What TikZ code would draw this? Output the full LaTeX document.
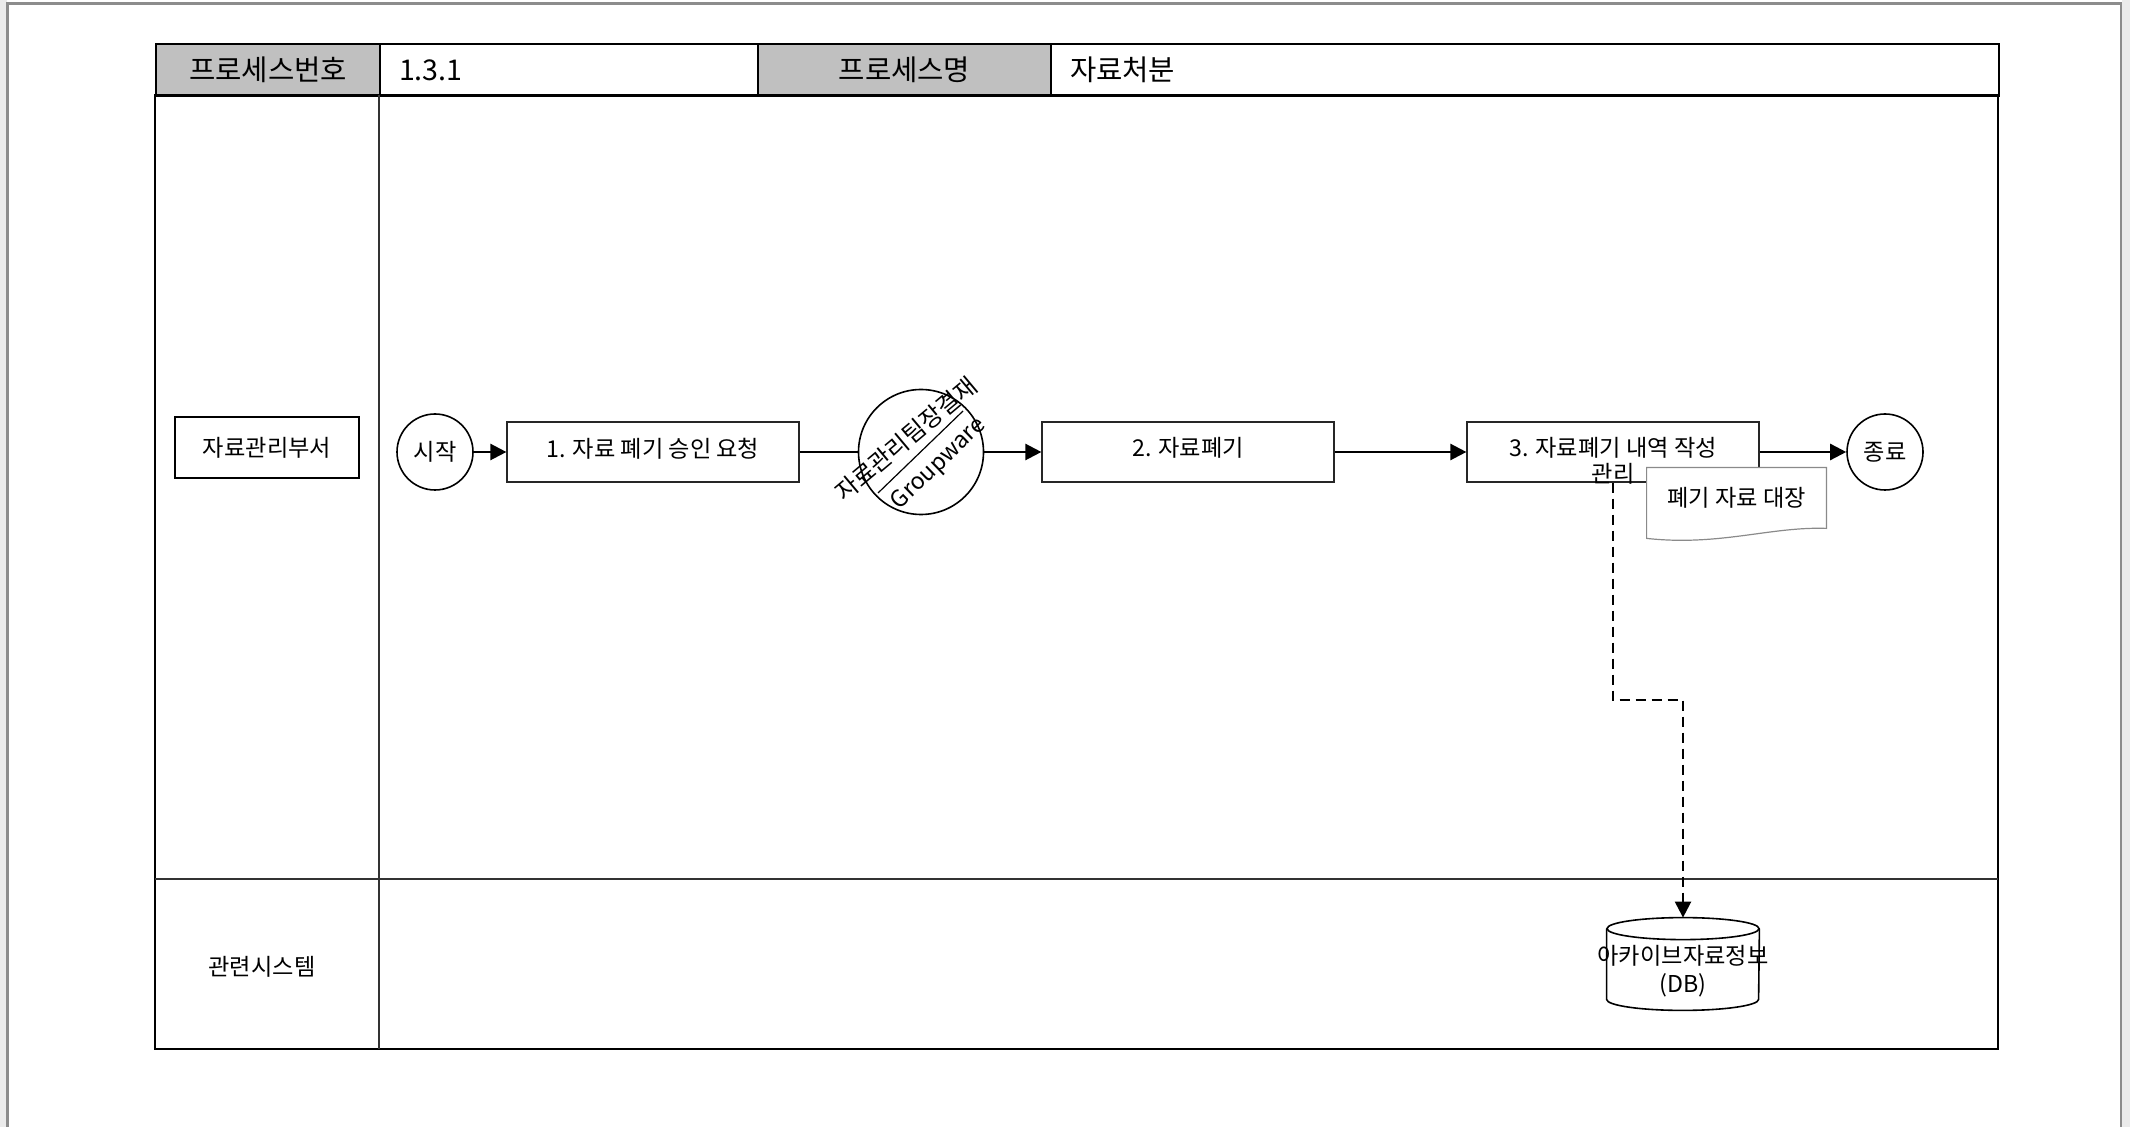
\documentclass[tikz,border=0pt]{standalone}
\usepackage{fontspec}
\setmainfont{Noto Sans CJK KR}
\definecolor{HeaderGray}{HTML}{C0C0C0}
\definecolor{FrameGray}{HTML}{8C8C8C}
\definecolor{PageGray}{HTML}{EBEBEB}
\definecolor{DocGray}{HTML}{8A8A8A}
\usetikzlibrary{arrows.meta,positioning,calc}

\tikzset{
  headcell/.style={draw=black, line width=1pt, minimum height=26pt, inner sep=0pt,
    anchor=north west, font=\fontsize{14.3}{16}\selectfont},
  headgray/.style={headcell, fill=HeaderGray},
  lanerule/.style={draw=black!80, line width=0.7pt},
  lanebox/.style={draw=black, line width=0.7pt, minimum width=92pt, minimum height=30.5pt,
    font=\fontsize{11.6}{13}\selectfont},
  procbox/.style={draw=black!85, line width=0.6pt, minimum width=146pt, minimum height=30pt},
  proctext/.style={inner sep=0pt, align=center, font=\fontsize{11.6}{12.8}\selectfont},
  terminal/.style={circle, draw=black, line width=0.8pt, minimum size=38pt, inner sep=0pt,
    font=\fontsize{11.6}{13}\selectfont},
  flowline/.style={line width=1.2pt},
  flowarrow/.style={flowline, -{Triangle[length=8pt,width=8pt]}},
  dbarrow/.style={line width=1.2pt, dash pattern=on 5pt off 3pt, -{Triangle[length=8pt,width=8pt]}},
  docline/.style={draw=DocGray, line width=0.6pt}
}

\begin{document}
\begin{tikzpicture}[x=0.5pt, y=-0.5pt]
  \useasboundingbox (0,0) rectangle (2130,1127);

  % page frame
  \fill[PageGray] (0,0) rectangle (7,1127);
  \fill[PageGray] (2122,0) rectangle (2130,1127);
  \draw[FrameGray, line width=1.3pt] (7.5,3.8) rectangle (2121,1140);

  % header row
  \node[headgray, minimum width=112pt] (numlabel) at (155,43) {프로세스번호};
  \node[headcell, minimum width=189pt, text width=170pt, inner xsep=9.5pt, align=left]
    (numvalue) at (379,43) {1.3.1};
  \node[headgray, minimum width=146.5pt] (namelabel) at (757,43) {프로세스명};
  \node[headcell, minimum width=474pt, text width=455pt, inner xsep=9.5pt, align=left]
    (namevalue) at (1050,43) {자료처분};

  % lanes
  \draw[line width=1pt] (155,95) rectangle (1998,1049);
  \draw[lanerule] (155,879) -- (1998,879);
  \draw[lanerule] (379,95) -- (379,1049);
  \node[lanebox] (dept) at (267,447.5) {자료관리부서};
  \node[font=\fontsize{11.6}{13}\selectfont] (sys) at (262,967) {관련시스템};

  % process
  \node[terminal] (start) at (435,452) {시작};
  \node[procbox] (req) at (653,452) {};
  \node[proctext, below=8pt of req.north] (reqtext) {1. 자료 폐기 승인 요청};

  \node[circle, draw=black, line width=0.8pt, minimum size=62.5pt, inner sep=0pt] (sign) at (921,452) {};
  \draw[line width=0.6pt] ($(sign.center)+(-43,41)$) -- ($(sign.center)+(42,-41)$);
  \node[rotate=40, inner sep=0pt, font=\fontsize{12}{13}\selectfont] (signer)
    at ($(sign.center)+(-15,-13)$) {자료관리팀장결재};
  \node[rotate=44, inner sep=0pt, font=\fontsize{11.6}{13}\selectfont] (tool)
    at ($(sign.center)+(18,12)$) {Groupware};

  \node[procbox] (disposal) at (1188,452) {};
  \node[proctext, below=8pt of disposal.north] (disposaltext) {2. 자료폐기};

  \node[procbox] (record) at (1613,452) {};
  \node[proctext, below=8pt of record.north] (recordtext) {3. 자료폐기 내역 작성\\관리};

  \node[terminal] (finish) at (1885,452) {종료};

  \node[fill=white, minimum width=89.5pt, minimum height=30pt, inner sep=0pt,
    font=\fontsize{11.6}{13}\selectfont] (ledger) at (1736.5,498) {폐기 자료 대장};
  \draw[docline] (ledger.north west) -- (ledger.north east) -- (ledger.south east)
    .. controls +(-56,-2) and +(73,8) .. ($(ledger.south west)+(0,10)$) -- cycle;

  % archive db
  \node[minimum width=76pt, minimum height=46pt, inner sep=0pt] (archive) at (1683,964) {};
  \draw[line width=0.8pt] ($(archive.north)+(0,11)$) ellipse[x radius=38pt, y radius=5.5pt];
  \draw[line width=0.8pt] ($(archive.north west)+(0,11)$) -- ($(archive.south west)+(0,-11)$)
    arc[start angle=180, end angle=360, x radius=38pt, y radius=5.5pt]
    -- ($(archive.north east)+(0,11)$);
  \node[proctext, font=\fontsize{11.6}{14}\selectfont] (archivetext)
    at ($(archive.center)+(0,7)$) {아카이브자료정보\\(DB)};

  % connectors
  \draw[flowarrow] (start) -- (req);
  \draw[flowline] (req) -- (sign);
  \draw[flowarrow] (sign) -- (disposal);
  \draw[flowarrow] (disposal) -- (record);
  \draw[flowarrow] (record) -- (finish);
  \coordinate (bend) at ($(record.south)!0.5!(archive.north)$);
  \draw[dbarrow] (record.south) |- (bend) -| (archive.north);
\end{tikzpicture}
\end{document}
